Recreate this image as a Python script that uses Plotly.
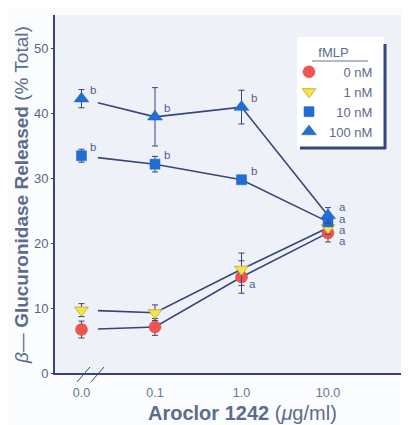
import plotly.graph_objects as go

# ---- data ----
x_labels = ["0.0", "0.1", "1.0", "10.0"]
series_names = ["0 nM", "1 nM", "10 nM", "100 nM"]
v_0nM = [6.7, 7.1, 14.8, 21.6]
e_0nM = [1.3, 1.3, 2.5, 1.4]
v_1nM = [9.7, 9.3, 16.0, 22.4]
e_1nM = [1.0, 1.2, 2.5, 1.0]
v_10nM = [33.5, 32.2, 29.8, 23.3]
e_10nM = [1.0, 1.2, 0.5, 0.6]
v_100nM = [42.3, 39.5, 41.0, 24.3]
e_100nM = [1.4, 4.5, 2.6, 1.2]
labels_0nM = ["", "", "a", "a"]
labels_1nM = ["", "", "", "a"]
labels_10nM = ["b", "b", "b", "a"]
labels_100nM = ["b", "b", "b", "a"]

# ---- layout mapping (positions on the broken x axis) ----
x_pos = [0.15, 1, 2, 3]
gap_start = 0.34
NAVY = "#38457a"
TXT = "#5d6b8c"

styles = [
    dict(symbol="circle", size=12, color="#ec5550", line=dict(color="#d9443f", width=0.5)),
    dict(symbol="triangle-down", size=12, color="#f3e44a", line=dict(color="#c9b43a", width=1)),
    dict(symbol="square", size=10, color="#1f6fd3", line=dict(color="#1f5fc0", width=0.5)),
    dict(symbol="triangle-up", size=13, color="#1f70d4", line=dict(color="#1f60c0", width=0.5)),
]
all_vals = [v_0nM, v_1nM, v_10nM, v_100nM]
all_errs = [e_0nM, e_1nM, e_10nM, e_100nM]
all_labels = [labels_0nM, labels_1nM, labels_10nM, labels_100nM]
# legend texts padded with figure spaces so they read right-aligned
legend_texts = ["\u2007\u20070 nM", "\u2007\u20071 nM", "\u200710 nM", "100 nM"]

fig = go.Figure()

# connecting lines (with a gap after the 0.0 point, as in the broken axis)
for vals in all_vals:
    frac = (gap_start - x_pos[0]) / (x_pos[1] - x_pos[0])
    y_start = vals[0] + (vals[1] - vals[0]) * frac
    fig.add_trace(go.Scatter(
        x=[gap_start] + x_pos[1:], y=[y_start] + vals[1:],
        mode="lines", line=dict(color=NAVY, width=1.6),
        showlegend=False, hoverinfo="skip"))

# markers with error bars
for name, vals, errs, st in zip(legend_texts, all_vals, all_errs, styles):
    fig.add_trace(go.Scatter(
        x=x_pos, y=vals, mode="markers", name=name,
        marker=st,
        error_y=dict(type="data", array=errs, visible=True,
                     color=NAVY, thickness=1, width=3),
    ))

# significance letters
annotations = []
stack_shift = {0: -8, 1: -2, 2: 3, 3: 8}
for si, (vals, labs) in enumerate(zip(all_vals, all_labels)):
    for i, (v, lab) in enumerate(zip(vals, labs)):
        if not lab:
            continue
        if i == 3:
            xs, ys = 14, stack_shift[si]
        elif lab == "b":
            xs, ys = 12, 9
        else:
            xs, ys = 11, -7
        annotations.append(dict(
            x=x_pos[i], y=v, xref="x", yref="y", text=lab, showarrow=False,
            xshift=xs, yshift=ys, font=dict(size=11.5, color="#4f5f92", family="Liberation Sans")))

# page offset: the html body adds an 8px margin
OFF = 8


def px(xp):
    return (xp - 55) / 350


def py(yp):
    return (373 - yp) / 358


# axis titles
annotations.append(dict(
    x=px(242), y=py(413), xref="paper", yref="paper",
    text="<b>Aroclor 1242</b> (<i>μ</i>g/ml)", showarrow=False,
    font=dict(size=20, color=TXT, family="Liberation Sans"), xanchor="center", yanchor="middle"))
annotations.append(dict(
    x=px(21), y=py(195), xref="paper", yref="paper",
    text="<i>β</i>— <b>Glucuronidase Released</b> (% Total)", showarrow=False, textangle=-90,
    font=dict(size=19, color=TXT, family="Liberation Sans"), xanchor="center", yanchor="middle"))

shapes = [
    # legend box
    dict(type="rect", xref="paper", yref="paper", x0=px(297), x1=px(384), y0=py(147), y1=py(37),
         fillcolor="white", line=dict(width=0), layer="above"),
    dict(type="line", xref="paper", yref="paper", x0=px(385), x1=px(385), y0=py(149), y1=py(44),
         line=dict(color=NAVY, width=3), layer="above"),
    dict(type="line", xref="paper", yref="paper", x0=px(300), x1=px(386), y0=py(148), y1=py(148),
         line=dict(color=NAVY, width=3), layer="above"),
    dict(type="line", xref="paper", yref="paper", x0=px(312), x1=px(368), y0=py(61), y1=py(61),
         line=dict(color="#6a7490", width=1), layer="above"),
    # axis break marks
    dict(type="line", xref="paper", yref="paper", x0=px(77), x1=px(90), y0=py(382), y1=py(367),
         line=dict(color=NAVY, width=1)),
    dict(type="line", xref="paper", yref="paper", x0=px(91), x1=px(104), y0=py(382), y1=py(367),
         line=dict(color=NAVY, width=1)),
]

fig.update_layout(
    width=409 - OFF, height=425 - OFF,
    margin=dict(l=55 - OFF, r=4, t=15 - OFF, b=52, autoexpand=False),
    paper_bgcolor="#fbfcfe",
    plot_bgcolor="#eef2f8",
    font=dict(family="Liberation Sans", color=TXT),
    showlegend=True,
    legend=dict(
        x=px(289), y=py(40), xanchor="left", yanchor="top",
        bgcolor="rgba(0,0,0,0)", borderwidth=0,
        font=dict(size=13, color=TXT, family="Liberation Sans"),
        title=dict(text="fMLP", side="top center", font=dict(size=13, color=TXT)),
        itemwidth=30, tracegroupgap=0,
    ),
    xaxis=dict(
        range=[-0.156, 3.89], tickmode="array", tickvals=x_pos, ticktext=x_labels,
        showgrid=False, zeroline=False, showline=True, linecolor=NAVY, linewidth=2,
        ticks="", tickfont=dict(size=12.5, color="#6a7590"), ticklabelstandoff=7,
    ),
    yaxis=dict(
        range=[0, 55.2], tickvals=[0, 10, 20, 30, 40, 50],
        showgrid=False, zeroline=False, showline=True, linecolor=NAVY, linewidth=2,
        ticks="outside", ticklen=2, tickcolor=NAVY,
        tickfont=dict(size=13, color="#5b6580", family="Liberation Sans Narrow, Liberation Sans"),
    ),
    annotations=annotations,
    shapes=shapes,
)

fig.write_html("out.html")
